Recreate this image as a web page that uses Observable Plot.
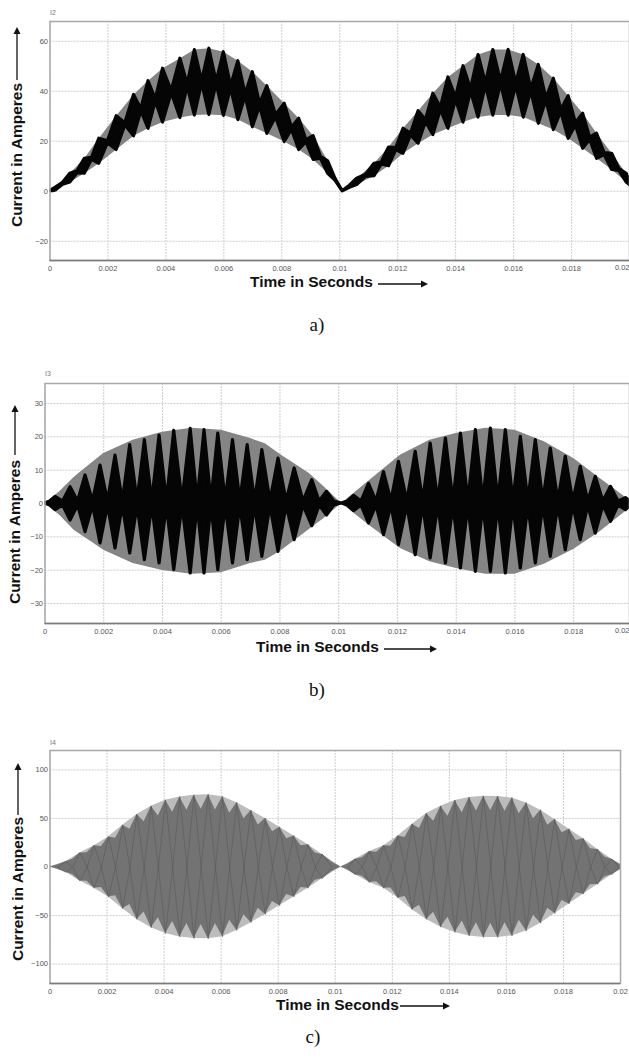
<!DOCTYPE html>
<html><head><meta charset="utf-8">
<script src="https://cdn.jsdelivr.net/npm/d3@7"></script>
<script src="https://cdn.jsdelivr.net/npm/@observablehq/plot@0.6"></script>
<style>
body{margin:0;background:#fff;}
#page{position:relative;width:629px;height:1059px;overflow:hidden;background:#fff;}
.panel{position:absolute;left:0;}
.t{position:absolute;white-space:nowrap;line-height:1;}
.ttl{font:bold 15.5px "Liberation Sans",Arial,sans-serif;color:#111;}
.cap{font:19px "Liberation Serif","Times New Roman",serif;color:#111;}
.sig{font:7px "Liberation Sans",Arial,sans-serif;color:#777;}
</style></head><body><div id="page"></div>
<script>
// ---------- shared axis data ----------
const xTicks = [0,0.002,0.004,0.006,0.008,0.01,0.012,0.014,0.016,0.018,0.02];
const xTickLabels = ["0","0.002","0.004","0.006","0.008","0.01","0.012","0.014","0.016","0.018","0.02"];

// ---------- panel a) I2 ----------
const aYTicks = [-20,0,20,40,60];
const aLobeT  = [0,0.0002,0.0007,0.0012,0.0017,0.0023,0.0029,0.0034,0.0039,0.0045,0.0050,0.0055,0.0060,0.0065,0.0070,0.0075,0.0081,0.0086,0.0091,0.0096,0.0101,0.0106,0.0112,0.0117,0.0122,0.01272,0.01323,0.01375,0.01427,0.01479,0.0153,0.01583,0.01635,0.01687,0.01739,0.0179,0.0184,0.01888,0.0194,0.0199,0.0202];
const aLobeHi = [0,1.5,7,13,21,30,38.5,44,49,53,56.5,57,55.6,52,47.6,42,35,29,22,12,0,5,11,17.5,25,32,39,45.5,50,54.5,56.5,56.5,54.5,50.5,45,38,31,23,15,7,0];
const aLobeLo = [0,0.3,3.5,7,11,16.5,22,25,27.5,29.3,30.3,30.5,30.2,28.5,25.6,23,19.7,16.5,12.5,7,0,2.5,6,10,15,19,22.5,25,27.5,29.5,30.3,30.3,29.5,27,24.5,21,17,13,8.5,3.5,0];
const aNeck   = [0.4,3,7.6,13,19.6,26.8,32.4,36.4,39.7,42.3,43.6,43.3,41.6,38.4,34.5,30,25,20,13.4,4.7,1.8,6.1,11.1,16.9,22.7,28.1,33,37,40.4,42.7,43.4,42.7,40.4,36.7,32.1,26.8,21,14.9,8.5,2.6];
const aNeckHalf = 0.4;

// ---------- panel b) I3 ----------
const bYTicks = [-30,-20,-10,0,10,20,30];
const bEnvT  = [0,0.0005,0.001,0.0015,0.002,0.003,0.004,0.005,0.006,0.007,0.0075,0.008,0.009,0.0095,0.0101,0.011,0.0121,0.0131,0.014,0.015,0.016,0.017,0.018,0.0189,0.0199,0.0201];
const bEnvHi = [0,3.5,7.9,11.5,15,19,21.4,22.6,22,19.5,17.9,14.8,9,5,0,6.5,14.5,19,21,22.6,22,18.5,13.5,7.5,1,0];
const bEnvLo = [0,-3.5,-8.1,-11,-14,-18,-20.1,-21.2,-20.8,-18,-17,-14.5,-7.8,-4.5,0,-6.3,-13.5,-17.5,-19.5,-21.2,-21.2,-18.2,-13.8,-8.5,-1.5,0];
const bLobeT  = [0,0.00036,0.00087,0.00138,0.00189,0.0024,0.0029,0.0034,0.0039,0.0044,0.00496,0.00543,0.0059,0.0064,0.0069,0.0074,0.00795,0.0085,0.0091,0.0096,0.0101,0.01052,0.01103,0.01154,0.01205,0.01262,0.01313,0.01365,0.01416,0.01467,0.01518,0.01569,0.0162,0.01671,0.01722,0.01773,0.01824,0.01875,0.01927,0.01978,0.0201];
const bLobeHi = [0,2,4.9,8.4,11.4,14.4,17.5,19,20.4,21.8,22.4,22,21,19,17.5,16,13.5,10.5,7,3.5,0,2.3,5.9,9.4,12.5,15.5,18,19.5,21,22,22.5,22,20,19,16.5,14,11,8,5,1.6,0];
const bLobeLo = [0,-2,-5.1,-8.6,-12,-13.5,-15,-17,-18,-20,-21,-21,-20,-18,-17,-16,-14.5,-11,-6.8,-3.6,0,-2.3,-6,-9.5,-12.5,-15.5,-16.5,-18,-19.5,-20.5,-20.5,-21,-19.5,-18,-16,-14,-11,-9,-5.5,-2,0];
const bNeckHalf = 0.6;

// ---------- panel c) I4 ----------
const cYTicks = [-100,-50,0,50,100];
const cLobeT  = [0,0.00055,0.00105,0.00155,0.00205,0.00255,0.00305,0.00355,0.00405,0.00455,0.00505,0.00555,0.00605,0.00655,0.00705,0.00755,0.00805,0.00855,0.00905,0.00955,0.0102,0.0107,0.0112,0.0117,0.0122,0.0127,0.0132,0.0137,0.0142,0.0147,0.0152,0.0157,0.0162,0.0167,0.0172,0.0177,0.0182,0.0187,0.0192,0.0197,0.0202];
const cLobeHi = [0,5.5,14.5,22,31,43,54,62.5,68.8,72.2,74,74.5,72.3,66.3,58.2,50,41,32,23,13,0,8,16,22,32,44,55,62.5,68.5,71.5,72.8,72.6,71,66,58.5,49,39,29,18,8,0];
const cLobeLo = [0,-5.5,-14.5,-22,-31,-43,-54,-62.5,-68.5,-72,-73.7,-74,-71.8,-65.5,-57.3,-49,-40,-31,-22,-12,0,-8,-16,-22,-32,-44,-54,-62,-67.5,-71,-72.6,-72.6,-71,-66,-58,-48,-38,-28,-18,-8,0];
const cNeckHi = [2.2,8,14.6,21.2,29.6,38.8,46.6,52.5,56.4,58.5,59.4,58.7,55.4,49.8,43.3,36.4,29.2,22,14.4,5.2,3.2,9.6,15.2,21.6,30.4,39.6,47,52.4,56,57.7,58.2,57.4,54.8,49.8,43,35.2,27.2,18.8,10.4,3.2];
const cNeckLo = [-2.2,-8,-14.6,-21.2,-29.6,-38.6,-46.4,-52.2,-56.1,-58.2,-59.1,-58.3,-54.9,-49.1,-42.5,-35.6,-28.4,-21.2,-13.6,-4.8,-3.2,-9.6,-15.2,-21.6,-30.4,-39.5,-46.5,-51.8,-55.5,-57.4,-58,-57.3,-54.8,-49.6,-42.6,-34.4,-26.4,-18.4,-10.4,-3.2];

// ---------- helpers ----------
function envRows(T, Hi, Lo){ return T.map((t,i)=>({t, lo:Lo[i], hi:Hi[i]})); }
function lobeRows(T, Hi, Lo, NHi, NLo){
  const rows=[];
  for(let i=0;i<T.length;i++){
    rows.push({t:T[i], lo:Lo[i], hi:Hi[i]});
    if(i<T.length-1) rows.push({t:(T[i]+T[i+1])/2, lo:NLo[i], hi:NHi[i]});
  }
  return rows;
}
// outline of each lobe as a closed diamond: top tip, right neck, bottom tip, left neck
function lobeOutlines(T, Hi, Lo){
  const rows=[];
  for(let i=1;i<T.length-1;i++){
    if(Hi[i]===0 && Lo[i]===0) continue;
    const l=(T[i-1]+T[i])/2, r=(T[i]+T[i+1])/2;
    rows.push({k:i,t:T[i],y:Hi[i]},{k:i,t:r,y:0},{k:i,t:T[i],y:Lo[i]},{k:i,t:l,y:0},{k:i,t:T[i],y:Hi[i]});
  }
  return rows;
}
const page=document.getElementById("page");
function makePanel({top,height,marginLeft,marginRight,xDomain,yDomain,yTicks,layers,lastInside}){
  const ticks = lastInside ? xTicks.slice(0,-1) : xTicks;
  const chart=Plot.plot({
    width:629,height,marginTop:21,marginBottom:40,marginLeft,marginRight,
    x:{domain:xDomain},
    y:{domain:yDomain},
    style:{fontFamily:"'Liberation Sans',Arial,sans-serif",color:"#555",background:"transparent",overflow:"visible"},
    marks:[
      Plot.gridX(xTicks,{stroke:"#cfcfcf",strokeOpacity:1,strokeDasharray:"2,1"}),
      Plot.gridY(yTicks,{stroke:"#cfcfcf",strokeOpacity:1,strokeDasharray:"2,1"}),
      ...layers,
      Plot.frame({stroke:"#a9a9a9",strokeWidth:1.5}),
      Plot.ruleY([yDomain[0]],{stroke:"#7a7a7a",strokeWidth:1.5}),
      Plot.axisX(ticks,{tickSize:0,tickPadding:5,fontSize:7.5,label:null,color:"#555",tickFormat:d=>xTickLabels[xTicks.indexOf(d)]}),
      lastInside ? Plot.text([xTickLabels[xTickLabels.length-1]],{frameAnchor:"bottom-right",text:d=>d,textAnchor:"end",dy:9.5,fontSize:7.5,fill:"#555"}) : null,
      Plot.axisY(yTicks,{tickSize:0,tickPadding:2,fontSize:7.5,label:null,color:"#555"})
    ]
  });
  chart.classList.add("panel");
  chart.style.top=top+"px";
  page.appendChild(chart);
}

// panel a
makePanel({top:0,height:300,marginLeft:49.5,marginRight:0,xDomain:[0,0.02],yDomain:[-27.7,67.9],yTicks:aYTicks,lastInside:true,layers:[
  Plot.areaY(envRows(aLobeT,aLobeHi,aLobeLo),{x:"t",y1:"lo",y2:"hi",fill:"#858585",clip:true}),
  Plot.areaY(lobeRows(aLobeT,aLobeHi,aLobeLo,aNeck.map(v=>v+aNeckHalf),aNeck.map(v=>v-aNeckHalf)),{x:"t",y1:"lo",y2:"hi",fill:"#050505",stroke:"#050505",strokeWidth:3.2,strokeLinejoin:"round",clip:true})
]});
// panel b
makePanel({top:362,height:301,marginLeft:44.5,marginRight:0,xDomain:[0,0.0199],yDomain:[-36,36],yTicks:bYTicks,lastInside:true,layers:[
  Plot.areaY(envRows(bEnvT,bEnvHi,bEnvLo),{x:"t",y1:"lo",y2:"hi",fill:"#858585",clip:true}),
  Plot.areaY(lobeRows(bLobeT,bLobeHi,bLobeLo,bLobeT.map(()=>bNeckHalf),bLobeT.map(()=>-bNeckHalf)),{x:"t",y1:"lo",y2:"hi",fill:"#050505",stroke:"#050505",strokeWidth:3.2,strokeLinejoin:"round",clip:true})
]});
// panel c
makePanel({top:729,height:294,marginLeft:49.5,marginRight:9,xDomain:[0,0.02],yDomain:[-120,120],yTicks:cYTicks,layers:[
  Plot.areaY(envRows(cLobeT,cLobeHi,cLobeLo),{x:"t",y1:"lo",y2:"hi",fill:"#bcbcbc",clip:true}),
  Plot.areaY(lobeRows(cLobeT,cLobeHi,cLobeLo,cNeckHi,cNeckLo),{x:"t",y1:"lo",y2:"hi",fill:"#737373",clip:true}),
  Plot.line(lobeOutlines(cLobeT,cLobeHi,cLobeLo),{x:"t",y:"y",z:"k",stroke:"#555",strokeWidth:0.5,clip:true})
]});

// ---------- text ----------
function txt(cls,s,x,y,opts={}){
  const d=document.createElement("div");
  d.className="t "+cls; d.textContent=s;
  d.style.left=x+"px"; d.style.top=y+"px";
  d.style.transform=(opts.anchorX==="start"?"translate(0,-50%)":"translate(-50%,-50%)")+(opts.rot?" rotate(-90deg)":"");
  page.appendChild(d);
}
txt("sig","I2",50,12,{anchorX:"start"});
txt("sig","I3",45,373,{anchorX:"start"});
txt("sig","I4",50,742,{anchorX:"start"});
txt("ttl","Current in Amperes",17,155,{rot:true});
txt("ttl","Current in Amperes",15,532,{rot:true});
txt("ttl","Current in Amperes",18,889,{rot:true});
txt("ttl","Time in Seconds",250,282,{anchorX:"start"});
txt("ttl","Time in Seconds",256,647,{anchorX:"start"});
txt("ttl","Time in Seconds",276,1005,{anchorX:"start"});
txt("cap","a)",317,325);
txt("cap","b)",317,690);
txt("cap","c)",313,1037);

// ---------- arrows ----------
const ns="http://www.w3.org/2000/svg";
const ov=document.createElementNS(ns,"svg");
ov.setAttribute("width",629);ov.setAttribute("height",1059);
ov.style.position="absolute";ov.style.left="0";ov.style.top="0";
page.appendChild(ov);
function arrowUp(x,y1,y2){
  ov.insertAdjacentHTML("beforeend",`<line x1="${x}" y1="${y1}" x2="${x}" y2="${y2+5}" stroke="#111" stroke-width="1.3"/><path d="M${x-3.5},${y2+7} L${x},${y2} L${x+3.5},${y2+7} Z" fill="#111"/>`);
}
function arrowRight(y,x1,x2){
  ov.insertAdjacentHTML("beforeend",`<line x1="${x1}" y1="${y}" x2="${x2-5}" y2="${y}" stroke="#111" stroke-width="1.3"/><path d="M${x2-7},${y-3.5} L${x2},${y} L${x2-7},${y+3.5} Z" fill="#111"/>`);
}
arrowUp(17,80,27); arrowUp(15,455,405); arrowUp(18,815,763);
arrowRight(284,378,428); arrowRight(649,384,437); arrowRight(1006,400,450);
</script></body></html>
